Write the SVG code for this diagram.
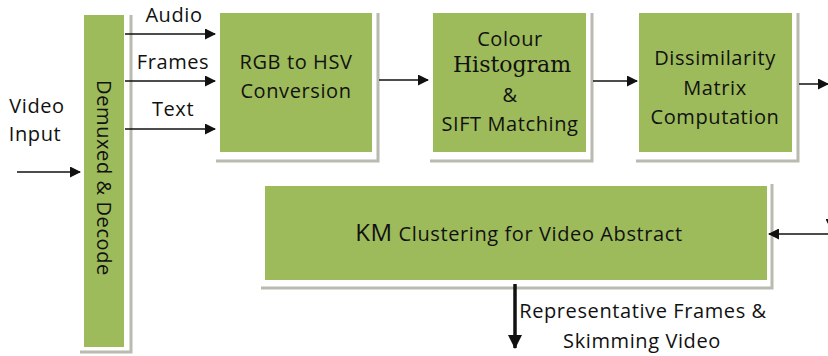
<svg xmlns="http://www.w3.org/2000/svg" width="828" height="356" viewBox="0 0 828 356">
<defs>
<style>
.box{fill:#9dbb5a;}
.sh{fill:none;stroke:#b9bab0;stroke-width:3;}
.t{font-family:"Open Sans","Liberation Sans",sans-serif;font-size:20px;letter-spacing:0.6px;fill:#111111;text-anchor:middle;}
.serif{font-family:"DejaVu Serif","Liberation Serif",serif;font-size:22px;fill:#111111;text-anchor:middle;}
.ln{stroke:#111;stroke-width:1.5;fill:none;}
</style>
<marker id="ah" markerWidth="11" markerHeight="11" refX="10" refY="5.5" orient="auto" markerUnits="userSpaceOnUse">
<path d="M0,0 L11,5.5 L0,11 z" fill="#111"/>
</marker>
<marker id="ahb" markerWidth="14" markerHeight="14" refX="13" refY="7" orient="auto" markerUnits="userSpaceOnUse">
<path d="M0,0 L14,7 L0,14 z" fill="#111"/>
</marker>
</defs>
<rect width="828" height="356" fill="#ffffff"/>

<g id="video-input">
<text class="t" x="37" y="113">Video</text>
<text class="t" x="35" y="141">Input</text>
</g>

<g id="demux">
<polyline class="sh" points="131,15 131,352 80,352"/>
<rect class="box" x="84" y="15" width="40" height="332"/>
<text class="t" transform="translate(97,178) rotate(90)" x="0" y="0">Demuxed &amp; Decode</text>
</g>

<g id="rgb">
<polyline class="sh" points="378,13 378,161 216,161"/>
<rect class="box" x="220" y="13" width="152" height="139"/>
<text class="t" x="296" y="69">RGB to HSV</text>
<text class="t" x="296" y="98">Conversion</text>
</g>

<g id="colour">
<polyline class="sh" points="592,13 592,161 430,161"/>
<rect class="box" x="433" y="13" width="153" height="139"/>
<text class="t" x="510" y="46">Colour</text>
<text class="serif" x="512" y="72">Histogram</text>
<text class="t" x="510" y="102">&amp;</text>
<text class="t" x="510" y="131">SIFT Matching</text>
</g>

<g id="dissimilarity">
<polyline class="sh" points="798,13 798,161 636,161"/>
<rect class="box" x="639" y="13" width="153" height="139"/>
<text class="t" x="715" y="65">Dissimilarity</text>
<text class="t" x="715" y="95">Matrix</text>
<text class="t" x="715" y="124">Computation</text>
</g>

<g id="km">
<polyline class="sh" points="772,184 772,288 261,288"/>
<rect class="box" x="265" y="186" width="502" height="94"/>
<text class="t" x="519" y="241"><tspan font-size="24px">KM</tspan> Clustering for Video Abstract</text>
</g>

<g id="labels">
<text class="t" x="174" y="22">Audio</text>
<text class="t" x="173" y="69">Frames</text>
<text class="t" x="173" y="116">Text</text>
<text class="t" x="643" y="318">Representative Frames &amp;</text>
<text class="t" x="642" y="348">Skimming Video</text>
</g>

<g id="connectors">
<line class="ln" x1="17" y1="172" x2="80" y2="172" marker-end="url(#ah)"/>
<line class="ln" x1="125" y1="34" x2="215" y2="34" marker-end="url(#ah)"/>
<line class="ln" x1="125" y1="81" x2="215" y2="81" marker-end="url(#ah)"/>
<line class="ln" x1="125" y1="129" x2="215" y2="129" marker-end="url(#ah)"/>
<line class="ln" x1="379" y1="80" x2="428" y2="80" marker-end="url(#ah)"/>
<line class="ln" x1="593" y1="81" x2="637" y2="81" marker-end="url(#ah)"/>
<line class="ln" x1="799" y1="84" x2="828" y2="84" marker-end="url(#ah)"/>
<line class="ln" x1="831" y1="90" x2="831" y2="229" marker-end="url(#ah)"/>
<line class="ln" x1="828" y1="234" x2="769" y2="234" marker-end="url(#ah)"/>
<line x1="515" y1="284" x2="515" y2="348" stroke="#111" stroke-width="3.5" marker-end="url(#ahb)"/>
</g>
</svg>
